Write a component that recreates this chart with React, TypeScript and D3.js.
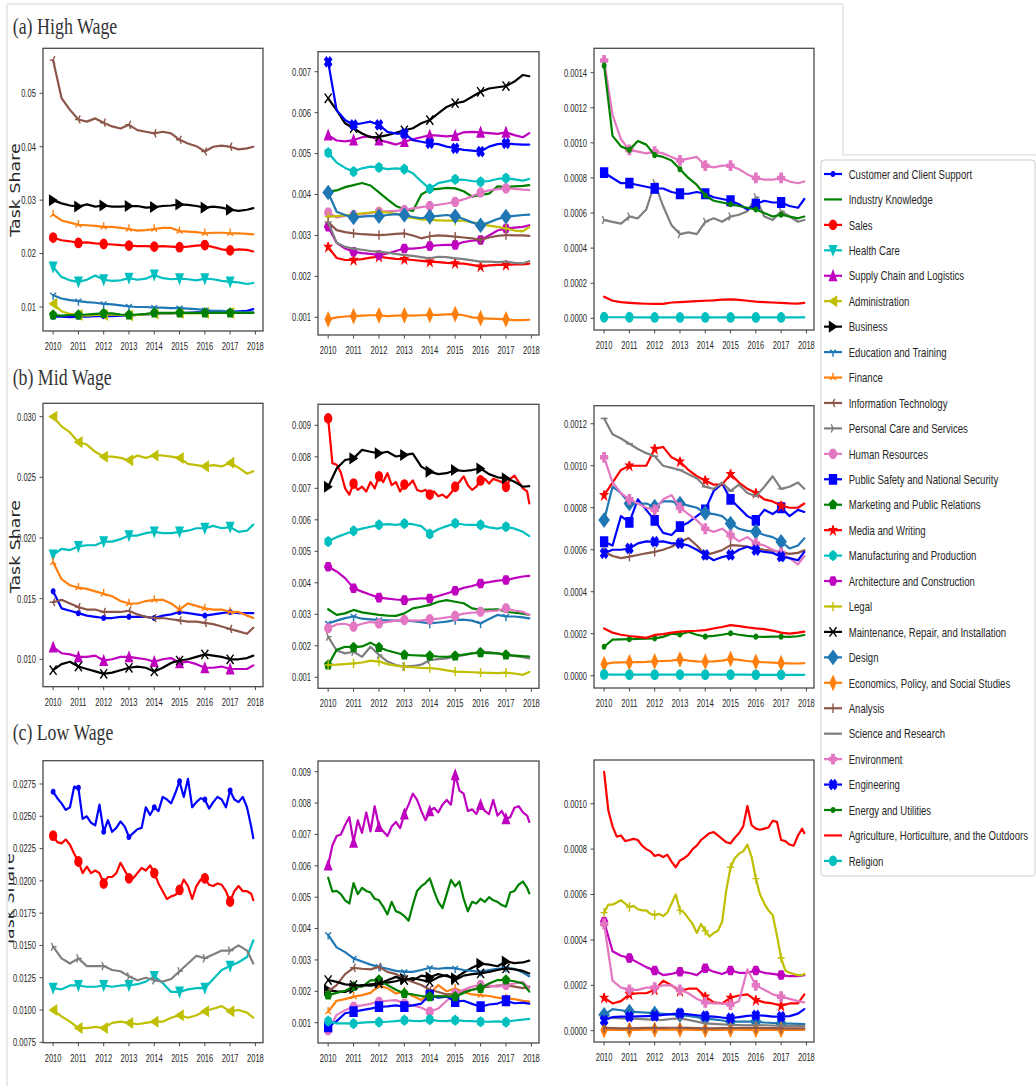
import React from 'react';
import * as d3 from 'd3';

// ---------- categories, colours, markers ----------
const CATEGORIES = [
  'Customer and Client Support', 'Industry Knowledge', 'Sales', 'Health Care', 'Supply Chain and Logistics',
  'Administration', 'Business', 'Education and Training', 'Finance', 'Information Technology',
  'Personal Care and Services', 'Human Resources', 'Public Safety and National Security',
  'Marketing and Public Relations', 'Media and Writing', 'Manufacturing and Production',
  'Architecture and Construction', 'Legal', 'Maintenance, Repair, and Installation', 'Design',
  'Economics, Policy, and Social Studies', 'Analysis', 'Science and Research', 'Environment',
  'Engineering', 'Energy and Utilities', 'Agriculture, Horticulture, and the Outdoors', 'Religion',
];
const COLOR_CYCLE = ['#0000ff', '#008000', '#ff0000', '#00bfbf', '#bf00bf', '#bfbf00', '#000000', '#1f77b4', '#ff7f0e', '#8c564b', '#7f7f7f', '#e377c2'];
const MARKER_CYCLE = ['.', ',', 'o', 'v', '^', '<', '>', '1', '2', '3', '4', '8', 's', 'p', '*', 'h', 'H', '+', 'x', 'D', 'd', '|', '_', 'P', 'X'];

const YEAR_TICKS = [2010, 2011, 2012, 2013, 2014, 2015, 2016, 2017, 2018];
const UNIT = 1e-3; // series values below are in thousandths of task share
const ROW_TITLES = ['(a) High Wage', '(b) Mid Wage', '(c) Low Wage'];
const Y_LABEL = 'Task Share';

// ---------- y tick labels per panel ----------
const TICKS_H1 = ['0.01', '0.02', '0.03', '0.04', '0.05'];
const TICKS_H2 = ['0.001', '0.002', '0.003', '0.004', '0.005', '0.006', '0.007'];
const TICKS_H3 = ['0.0000', '0.0002', '0.0004', '0.0006', '0.0008', '0.0010', '0.0012', '0.0014'];
const TICKS_M1 = ['0.010', '0.015', '0.020', '0.025', '0.030'];
const TICKS_M2 = ['0.001', '0.002', '0.003', '0.004', '0.005', '0.006', '0.007', '0.008', '0.009'];
const TICKS_M3 = ['0.0000', '0.0002', '0.0004', '0.0006', '0.0008', '0.0010', '0.0012'];
const TICKS_L1 = ['0.0075', '0.0100', '0.0125', '0.0150', '0.0175', '0.0200', '0.0225', '0.0250', '0.0275'];
const TICKS_L2 = ['0.001', '0.002', '0.003', '0.004', '0.005', '0.006', '0.007', '0.008', '0.009'];
const TICKS_L3 = ['0.0000', '0.0002', '0.0004', '0.0006', '0.0008', '0.0010'];

// ---------- (a) High wage ----------
const HIGH_1: [string, number[]][] = [
  ['Information Technology', [56.2, 49.1, 46.9, 45.1, 44.7, 45.3, 44.5, 43.8, 43.4, 44.1, 43.1, 42.8, 42.5, 42.8, 42.5, 41.3, 40.6, 40.1, 39.1, 40.0, 40.2, 40.0, 39.5, 39.7, 40.0]],
  ['Business', [30.0, 29.4, 29.0, 28.8, 29.2, 28.8, 29.0, 28.8, 28.8, 28.9, 28.9, 28.6, 28.7, 28.9, 29.0, 29.2, 29.1, 28.9, 28.6, 28.8, 28.6, 28.2, 28.0, 28.2, 28.5]],
  ['Finance', [27.3, 26.2, 25.8, 25.4, 25.3, 25.2, 25.0, 25.0, 24.8, 24.6, 24.3, 24.4, 24.6, 24.8, 24.8, 24.2, 24.1, 24.0, 23.8, 23.9, 23.9, 23.8, 23.8, 23.7, 23.6]],
  ['Sales', [23.0, 22.5, 22.3, 22.0, 22.1, 21.9, 21.8, 21.7, 21.6, 21.5, 21.4, 21.4, 21.3, 21.4, 21.3, 21.2, 21.3, 21.5, 21.6, 21.2, 20.8, 20.6, 20.8, 20.7, 20.4]],
  ['Health Care', [17.5, 15.6, 15.0, 14.7, 15.1, 15.9, 15.1, 14.9, 15.0, 15.4, 15.1, 15.3, 16.0, 15.4, 15.2, 15.3, 15.2, 15.0, 15.3, 15.2, 14.9, 14.7, 14.6, 14.3, 14.5]],
  ['Education and Training', [12.2, 11.6, 11.3, 11.1, 10.9, 10.8, 10.6, 10.5, 10.3, 10.1, 10.0, 10.0, 9.9, 9.9, 9.8, 9.8, 9.7, 9.6, 9.4, 9.3, 9.3, 9.1, 9.1, 9.0, 9.0]],
  ['Administration', [10.6, 9.2, 8.7, 8.5, 8.4, 8.5, 8.5, 8.6, 8.5, 8.4, 8.5, 8.6, 8.8, 8.8, 8.8, 8.9, 8.8, 8.8, 8.9, 8.9, 8.9, 8.9, 8.9, 8.9, 8.9]],
  ['Customer and Client Support', [8.2, 8.2, 8.1, 8.2, 8.2, 8.3, 8.3, 8.3, 8.4, 8.4, 8.5, 8.6, 8.7, 8.8, 8.8, 8.9, 8.9, 9.0, 9.0, 9.1, 9.1, 9.1, 9.2, 9.3, 9.6]],
  ['Marketing and Public Relations', [8.5, 8.4, 8.5, 8.5, 8.6, 8.7, 8.8, 8.8, 8.6, 8.5, 8.6, 8.7, 8.9, 8.9, 8.9, 8.9, 8.9, 8.9, 8.9, 8.9, 8.9, 8.9, 8.9, 8.9, 8.9]],
];
const HIGH_2: [string, number[]][] = [
  ['Engineering', [7.24, 6.06, 5.82, 5.70, 5.74, 5.78, 5.70, 5.53, 5.49, 5.49, 5.33, 5.29, 5.25, 5.23, 5.17, 5.13, 5.09, 5.07, 5.05, 5.17, 5.23, 5.25, 5.23, 5.22, 5.22]],
  ['Maintenance, Repair, and Installation', [6.35, 6.06, 5.74, 5.62, 5.49, 5.40, 5.41, 5.45, 5.51, 5.57, 5.62, 5.74, 5.82, 5.98, 6.14, 6.23, 6.27, 6.39, 6.51, 6.59, 6.62, 6.65, 6.76, 6.92, 6.89]],
  ['Supply Chain and Logistics', [5.45, 5.32, 5.30, 5.33, 5.40, 5.42, 5.33, 5.28, 5.22, 5.29, 5.35, 5.40, 5.45, 5.44, 5.42, 5.44, 5.52, 5.53, 5.52, 5.50, 5.48, 5.52, 5.45, 5.40, 5.50]],
  ['Manufacturing and Production', [5.02, 4.78, 4.65, 4.56, 4.64, 4.68, 4.66, 4.62, 4.64, 4.62, 4.52, 4.32, 4.14, 4.28, 4.32, 4.37, 4.36, 4.33, 4.31, 4.33, 4.38, 4.40, 4.37, 4.34, 4.38]],
  ['Industry Knowledge', [4.07, 4.10, 4.18, 4.23, 4.28, 4.22, 4.05, 3.88, 3.72, 3.64, 3.60, 4.00, 4.12, 4.14, 4.16, 4.15, 4.08, 3.95, 3.99, 4.02, 4.20, 4.18, 4.20, 4.21, 4.23]],
  ['Human Resources', [3.56, 3.44, 3.48, 3.50, 3.52, 3.55, 3.58, 3.59, 3.60, 3.62, 3.66, 3.69, 3.72, 3.75, 3.78, 3.82, 3.88, 3.96, 4.05, 4.10, 4.13, 4.15, 4.14, 4.12, 4.11]],
  ['Design', [4.05, 3.58, 3.50, 3.44, 3.46, 3.48, 3.47, 3.50, 3.52, 3.50, 3.45, 3.42, 3.46, 3.48, 3.50, 3.47, 3.40, 3.32, 3.25, 3.32, 3.40, 3.46, 3.48, 3.50, 3.51]],
  ['Legal', [3.46, 3.47, 3.49, 3.51, 3.54, 3.56, 3.58, 3.56, 3.53, 3.46, 3.43, 3.39, 3.38, 3.37, 3.36, 3.36, 3.36, 3.32, 3.29, 3.24, 3.21, 3.17, 3.12, 3.10, 3.21]],
  ['Analysis', [3.33, 3.13, 3.08, 3.05, 3.03, 3.02, 3.01, 3.02, 3.04, 3.05, 3.00, 2.93, 2.98, 3.00, 2.99, 2.97, 2.95, 2.93, 2.89, 2.95, 2.99, 3.01, 3.00, 3.00, 2.99]],
  ['Architecture and Construction', [3.21, 2.82, 2.68, 2.60, 2.57, 2.55, 2.52, 2.56, 2.62, 2.68, 2.68, 2.70, 2.74, 2.76, 2.77, 2.77, 2.84, 2.87, 2.89, 3.00, 3.12, 3.17, 3.19, 3.21, 3.25]],
  ['Science and Research', [3.33, 2.82, 2.72, 2.68, 2.65, 2.62, 2.60, 2.58, 2.55, 2.52, 2.50, 2.47, 2.44, 2.48, 2.47, 2.44, 2.42, 2.39, 2.36, 2.36, 2.35, 2.36, 2.33, 2.32, 2.37]],
  ['Media and Writing', [2.72, 2.45, 2.40, 2.40, 2.42, 2.46, 2.48, 2.45, 2.43, 2.42, 2.40, 2.38, 2.36, 2.35, 2.33, 2.32, 2.31, 2.28, 2.24, 2.27, 2.28, 2.28, 2.29, 2.29, 2.31]],
  ['Economics, Policy, and Social Studies', [0.95, 1.00, 1.02, 1.03, 1.04, 1.05, 1.05, 1.03, 1.04, 1.05, 1.04, 1.05, 1.06, 1.06, 1.07, 1.08, 1.05, 1.00, 0.98, 0.97, 0.96, 0.95, 0.93, 0.93, 0.94]],
];
const HIGH_3: [string, number[]][] = [
  ['Environment', [1.47, 1.16, 1.02, 0.96, 0.95, 0.94, 0.95, 0.94, 0.92, 0.90, 0.91, 0.92, 0.87, 0.86, 0.87, 0.87, 0.85, 0.82, 0.80, 0.79, 0.79, 0.80, 0.78, 0.77, 0.78]],
  ['Energy and Utilities', [1.44, 1.04, 0.98, 0.96, 1.01, 0.99, 0.93, 0.92, 0.90, 0.85, 0.80, 0.76, 0.70, 0.67, 0.66, 0.65, 0.64, 0.63, 0.62, 0.60, 0.58, 0.59, 0.58, 0.57, 0.58]],
  ['Public Safety and National Security', [0.83, 0.80, 0.77, 0.77, 0.76, 0.75, 0.74, 0.74, 0.72, 0.71, 0.71, 0.72, 0.71, 0.69, 0.68, 0.67, 0.65, 0.62, 0.65, 0.67, 0.66, 0.66, 0.64, 0.63, 0.68]],
  ['Personal Care and Services', [0.56, 0.55, 0.54, 0.58, 0.57, 0.62, 0.77, 0.64, 0.53, 0.48, 0.49, 0.48, 0.55, 0.57, 0.55, 0.58, 0.59, 0.61, 0.69, 0.58, 0.56, 0.61, 0.58, 0.55, 0.56]],
  ['Agriculture, Horticulture, and the Outdoors', [0.123, 0.100, 0.092, 0.088, 0.085, 0.083, 0.082, 0.082, 0.090, 0.092, 0.095, 0.098, 0.100, 0.102, 0.106, 0.108, 0.105, 0.100, 0.095, 0.092, 0.090, 0.088, 0.085, 0.084, 0.088]],
  ['Religion', [0.006, 0.006, 0.006, 0.006, 0.005, 0.005, 0.005, 0.005, 0.005, 0.005, 0.005, 0.005, 0.005, 0.005, 0.005, 0.005, 0.005, 0.005, 0.005, 0.005, 0.005, 0.005, 0.005, 0.005, 0.005]],
];

// ---------- (b) Mid wage ----------
const MID_1: [string, number[]][] = [
  ['Administration', [30.0, 29.2, 28.7, 27.9, 27.7, 27.1, 26.7, 26.7, 26.6, 26.4, 26.8, 26.6, 26.8, 26.8, 26.7, 26.6, 26.1, 26.0, 25.9, 26.0, 25.9, 26.2, 25.8, 25.3, 25.5]],
  ['Health Care', [18.6, 19.1, 19.0, 19.3, 19.4, 19.4, 19.7, 19.7, 19.9, 20.2, 20.2, 20.4, 20.5, 20.4, 20.4, 20.5, 20.6, 20.8, 20.8, 21.0, 20.8, 20.9, 20.5, 20.6, 21.1]],
  ['Finance', [18.0, 16.6, 16.1, 15.9, 15.8, 15.6, 15.4, 15.2, 14.8, 14.6, 14.6, 14.8, 14.9, 14.9, 14.6, 14.1, 14.6, 14.4, 14.2, 14.1, 14.1, 13.9, 13.9, 13.6, 13.4]],
  ['Customer and Client Support', [15.6, 14.2, 14.0, 13.8, 13.6, 13.5, 13.4, 13.4, 13.5, 13.5, 13.5, 13.5, 13.4, 13.6, 13.7, 13.9, 13.8, 13.7, 13.6, 13.7, 13.8, 13.9, 13.8, 13.8, 13.8]],
  ['Information Technology', [14.7, 14.9, 14.6, 14.3, 14.1, 14.1, 13.9, 13.9, 13.9, 14.0, 13.7, 13.5, 13.4, 13.4, 13.3, 13.2, 13.1, 13.1, 13.0, 12.9, 12.7, 12.5, 12.3, 12.1, 12.6]],
  ['Supply Chain and Logistics', [11.0, 10.5, 10.4, 10.2, 10.2, 10.3, 9.9, 10.0, 10.2, 10.2, 10.1, 10.0, 9.8, 10.0, 10.1, 9.7, 9.8, 9.6, 9.3, 9.3, 9.4, 9.2, 9.2, 9.2, 9.5]],
  ['Maintenance, Repair, and Installation', [9.1, 9.6, 9.8, 9.4, 9.2, 9.0, 8.8, 8.9, 9.1, 9.3, 9.4, 9.3, 9.0, 9.3, 9.7, 9.9, 10.0, 10.2, 10.4, 10.3, 10.2, 10.0, 10.0, 10.1, 10.3]],
];
const MID_2: [string, number[]][] = [
  ['Sales', [9.22, 7.80, 7.75, 7.50, 7.00, 6.80, 7.15, 6.95, 7.05, 6.90, 7.20, 7.00, 7.38, 7.20, 7.48, 7.10, 7.20, 6.90, 7.12, 7.10, 7.25, 6.95, 6.90, 6.95, 6.80, 6.90, 6.75, 6.80, 6.70, 6.85, 7.05, 7.20, 7.38, 7.10, 6.95, 7.05, 7.25, 7.30, 7.15, 7.30, 7.25, 7.20, 7.05, 7.30, 7.40, 7.20, 7.00, 6.90, 6.52]],
  ['Business', [7.05, 7.63, 7.90, 7.95, 8.22, 8.16, 8.11, 8.16, 8.01, 8.06, 8.10, 7.69, 7.53, 7.45, 7.48, 7.58, 7.55, 7.58, 7.63, 7.45, 7.35, 7.32, 7.21, 7.05, 7.07]],
  ['Manufacturing and Production', [5.31, 5.45, 5.55, 5.65, 5.72, 5.78, 5.84, 5.86, 5.84, 5.88, 5.86, 5.80, 5.55, 5.70, 5.80, 5.89, 5.85, 5.84, 5.84, 5.76, 5.72, 5.78, 5.72, 5.62, 5.48]],
  ['Architecture and Construction', [4.51, 4.36, 4.15, 3.83, 3.72, 3.62, 3.53, 3.50, 3.47, 3.45, 3.48, 3.51, 3.50, 3.58, 3.66, 3.75, 3.84, 3.90, 3.98, 4.02, 4.07, 4.09, 4.15, 4.20, 4.22]],
  ['Industry Knowledge', [3.16, 2.98, 3.03, 3.14, 3.06, 3.02, 2.98, 2.96, 2.95, 3.03, 3.19, 3.24, 3.30, 3.40, 3.45, 3.40, 3.35, 3.19, 3.14, 3.15, 3.16, 3.08, 3.05, 3.02, 2.98]],
  ['Education and Training', [2.71, 2.80, 2.88, 2.93, 2.86, 2.84, 2.82, 2.81, 2.80, 2.80, 2.78, 2.75, 2.71, 2.74, 2.77, 2.82, 2.83, 2.80, 2.71, 2.85, 2.98, 2.93, 2.93, 2.90, 2.87]],
  ['Human Resources', [2.56, 2.68, 2.70, 2.61, 2.70, 2.76, 2.71, 2.76, 2.80, 2.82, 2.80, 2.81, 2.84, 2.86, 2.90, 2.95, 3.02, 3.05, 3.08, 3.10, 3.12, 3.19, 3.12, 3.08, 2.98]],
  ['Personal Care and Services', [2.29, 1.85, 1.76, 1.81, 1.65, 1.97, 1.71, 1.50, 1.39, 1.34, 1.36, 1.40, 1.55, 1.58, 1.60, 1.66, 1.70, 1.76, 1.81, 1.80, 1.76, 1.71, 1.68, 1.64, 1.60]],
  ['Marketing and Public Relations', [1.39, 1.87, 1.97, 1.95, 1.98, 2.10, 1.95, 1.85, 1.78, 1.71, 1.70, 1.69, 1.68, 1.66, 1.65, 1.68, 1.72, 1.76, 1.78, 1.77, 1.76, 1.71, 1.69, 1.67, 1.66]],
  ['Legal', [1.39, 1.40, 1.42, 1.44, 1.47, 1.53, 1.50, 1.42, 1.37, 1.34, 1.32, 1.30, 1.29, 1.27, 1.22, 1.18, 1.17, 1.16, 1.15, 1.14, 1.13, 1.15, 1.12, 1.08, 1.17]],
];
const MID_3: [string, number[]][] = [
  ['Science and Research', [1.225, 1.15, 1.13, 1.105, 1.08, 1.06, 1.045, 1.00, 0.99, 0.98, 0.96, 0.94, 0.90, 0.89, 0.92, 0.88, 0.91, 0.87, 0.855, 0.90, 0.95, 0.89, 0.90, 0.92, 0.89]],
  ['Media and Writing', [0.86, 0.92, 0.98, 1.00, 1.00, 1.00, 1.08, 1.09, 1.04, 1.02, 0.98, 0.95, 0.93, 0.91, 0.91, 0.96, 0.92, 0.89, 0.87, 0.84, 0.83, 0.81, 0.80, 0.80, 0.82]],
  ['Public Safety and National Security', [0.638, 0.62, 0.76, 0.73, 0.84, 0.79, 0.74, 0.68, 0.67, 0.71, 0.73, 0.76, 0.79, 0.88, 0.915, 0.84, 0.80, 0.76, 0.74, 0.79, 0.77, 0.80, 0.76, 0.79, 0.78]],
  ['Engineering', [0.583, 0.60, 0.60, 0.606, 0.63, 0.64, 0.638, 0.64, 0.63, 0.63, 0.62, 0.60, 0.575, 0.55, 0.565, 0.575, 0.60, 0.614, 0.598, 0.59, 0.585, 0.567, 0.56, 0.55, 0.59]],
  ['Design', [0.741, 0.90, 0.87, 0.82, 0.82, 0.82, 0.805, 0.83, 0.83, 0.82, 0.81, 0.80, 0.775, 0.77, 0.76, 0.725, 0.70, 0.69, 0.686, 0.67, 0.66, 0.638, 0.606, 0.62, 0.654]],
  ['Environment', [1.04, 0.92, 0.87, 0.84, 0.82, 0.80, 0.79, 0.84, 0.86, 0.80, 0.77, 0.74, 0.70, 0.685, 0.70, 0.67, 0.64, 0.66, 0.63, 0.62, 0.60, 0.585, 0.56, 0.53, 0.57]],
  ['Analysis', [0.59, 0.57, 0.56, 0.567, 0.575, 0.583, 0.59, 0.60, 0.614, 0.638, 0.655, 0.62, 0.575, 0.585, 0.598, 0.622, 0.62, 0.615, 0.606, 0.60, 0.595, 0.59, 0.58, 0.585, 0.598]],
  ['Agriculture, Horticulture, and the Outdoors', [0.225, 0.205, 0.195, 0.189, 0.185, 0.180, 0.194, 0.198, 0.205, 0.210, 0.212, 0.214, 0.217, 0.225, 0.232, 0.241, 0.236, 0.230, 0.225, 0.222, 0.215, 0.205, 0.200, 0.205, 0.210]],
  ['Energy and Utilities', [0.138, 0.172, 0.173, 0.174, 0.175, 0.176, 0.178, 0.185, 0.200, 0.196, 0.208, 0.195, 0.186, 0.190, 0.195, 0.202, 0.195, 0.190, 0.186, 0.185, 0.186, 0.186, 0.185, 0.188, 0.194]],
  ['Economics, Policy, and Social Studies', [0.055, 0.062, 0.063, 0.064, 0.065, 0.066, 0.068, 0.070, 0.072, 0.078, 0.072, 0.068, 0.067, 0.068, 0.072, 0.080, 0.075, 0.070, 0.066, 0.064, 0.062, 0.060, 0.059, 0.058, 0.060]],
  ['Religion', [0.006, 0.005, 0.005, 0.005, 0.005, 0.005, 0.005, 0.005, 0.005, 0.005, 0.005, 0.005, 0.005, 0.005, 0.005, 0.005, 0.005, 0.005, 0.004, 0.004, 0.004, 0.004, 0.004, 0.004, 0.004]],
];

// ---------- (c) Low wage ----------
const LOW_1: [string, number[]][] = [
  ['Customer and Client Support', [26.9, 26.4, 26.0, 25.5, 25.7, 27.3, 27.2, 24.8, 25.0, 24.5, 24.3, 25.9, 23.8, 24.7, 23.8, 24.1, 24.6, 24.2, 23.4, 23.7, 24.0, 24.1, 25.7, 25.1, 25.7, 25.4, 26.5, 26.3, 26.0, 26.8, 27.7, 26.5, 27.9, 25.7, 26.1, 26.4, 26.3, 25.6, 26.1, 26.5, 26.3, 25.7, 27.0, 26.3, 26.1, 26.5, 25.7, 24.2, 23.3]],
  ['Sales', [23.5, 23.0, 22.9, 23.2, 22.8, 22.1, 21.5, 20.6, 21.1, 20.6, 20.8, 20.6, 19.8, 20.3, 20.3, 20.6, 21.4, 20.8, 20.2, 20.2, 20.6, 21.0, 20.8, 21.2, 20.6, 19.8, 19.2, 18.6, 18.8, 18.9, 19.3, 20.1, 19.6, 18.6, 19.6, 20.1, 20.2, 19.7, 19.6, 19.8, 19.7, 19.2, 18.4, 19.2, 19.6, 19.2, 19.2, 19.0, 18.5]],
  ['Personal Care and Services', [14.9, 14.0, 13.6, 14.0, 13.4, 13.4, 13.4, 13.1, 13.0, 12.6, 12.3, 12.5, 12.3, 12.2, 12.4, 13.0, 13.6, 14.2, 14.0, 14.3, 14.6, 14.6, 15.0, 14.6, 13.6]],
  ['Health Care', [11.7, 11.6, 11.9, 11.9, 11.8, 11.8, 11.9, 11.8, 11.9, 11.9, 12.0, 12.2, 12.6, 12.1, 11.4, 11.4, 11.6, 11.7, 11.7, 12.4, 13.1, 13.4, 13.7, 14.1, 15.4]],
  ['Administration', [10.0, 9.5, 9.1, 8.6, 8.6, 8.7, 8.6, 9.0, 9.1, 9.0, 8.9, 9.0, 9.1, 9.1, 9.4, 9.6, 9.4, 9.6, 9.9, 10.1, 10.3, 9.9, 10.0, 9.8, 9.4]],
];
const LOW_2: [string, number[]][] = [
  ['Supply Chain and Logistics', [6.02, 6.65, 6.95, 7.00, 7.30, 7.55, 6.75, 7.45, 7.05, 7.70, 7.10, 7.90, 7.25, 7.10, 6.95, 7.25, 7.40, 7.20, 7.65, 7.95, 8.30, 8.10, 7.75, 7.45, 7.75, 7.85, 7.70, 7.95, 8.10, 7.95, 8.90, 8.40, 8.30, 7.75, 7.80, 7.65, 7.95, 7.75, 7.65, 8.10, 7.60, 7.75, 7.50, 7.55, 7.85, 7.90, 7.70, 7.60, 7.40]],
  ['Industry Knowledge', [5.62, 5.18, 5.20, 5.10, 4.90, 4.80, 5.45, 5.10, 5.30, 5.20, 5.15, 4.95, 4.90, 4.70, 4.45, 4.85, 4.55, 4.50, 4.40, 4.25, 4.75, 5.20, 5.35, 5.45, 5.60, 5.20, 4.85, 4.65, 5.10, 5.55, 5.35, 5.50, 4.95, 4.55, 4.85, 4.80, 4.95, 4.85, 5.00, 4.90, 4.85, 4.75, 4.70, 5.15, 5.20, 5.40, 5.50, 5.30, 5.12]],
  ['Education and Training', [3.80, 3.40, 3.25, 3.05, 2.95, 2.85, 2.78, 2.72, 2.65, 2.62, 2.62, 2.68, 2.75, 2.72, 2.75, 2.73, 2.68, 2.65, 2.62, 2.68, 2.72, 2.75, 2.72, 2.60, 2.48]],
  ['Business', [2.04, 2.00, 1.98, 2.10, 2.20, 2.18, 2.22, 2.28, 2.32, 2.40, 2.35, 2.50, 2.45, 2.55, 2.48, 2.42, 2.60, 2.75, 2.88, 2.85, 2.80, 2.95, 2.90, 2.92, 2.98]],
  ['Maintenance, Repair, and Installation', [2.36, 2.30, 2.22, 2.20, 2.18, 2.22, 2.25, 2.35, 2.46, 2.36, 2.42, 2.36, 2.30, 2.45, 2.52, 2.36, 2.50, 2.55, 2.57, 2.62, 2.68, 2.73, 2.70, 2.65, 2.57]],
  ['Information Technology', [2.00, 2.20, 2.55, 2.75, 2.72, 2.70, 2.78, 2.62, 2.55, 2.40, 2.30, 2.20, 2.05, 1.98, 1.90, 1.92, 2.00, 2.05, 2.12, 2.15, 2.18, 2.20, 2.15, 2.10, 2.15]],
  ['Finance', [1.35, 1.70, 1.75, 1.83, 1.88, 1.95, 2.18, 2.10, 1.93, 1.99, 1.85, 1.72, 1.93, 2.20, 2.00, 2.09, 1.98, 1.90, 1.88, 1.85, 1.80, 1.77, 1.75, 1.70, 1.67]],
  ['Marketing and Public Relations', [1.88, 1.95, 2.02, 2.15, 2.15, 2.35, 2.36, 2.20, 2.05, 1.93, 1.90, 1.85, 1.83, 1.85, 1.84, 1.83, 1.95, 2.05, 2.09, 2.25, 2.36, 2.36, 2.32, 2.25, 1.99]],
  ['Human Resources', [0.76, 1.25, 1.40, 1.51, 1.55, 1.60, 1.67, 1.70, 1.72, 1.61, 1.55, 1.48, 1.35, 1.45, 1.70, 1.93, 2.05, 2.15, 2.20, 2.18, 2.15, 2.20, 2.25, 2.30, 2.09]],
  ['Public Safety and National Security', [0.87, 1.05, 1.30, 1.35, 1.40, 1.45, 1.51, 1.52, 1.55, 1.51, 1.55, 1.61, 1.88, 1.80, 1.83, 1.67, 1.70, 1.60, 1.51, 1.58, 1.61, 1.70, 1.62, 1.64, 1.61]],
  ['Manufacturing and Production', [1.05, 0.98, 0.98, 0.97, 1.00, 1.02, 1.02, 1.03, 1.05, 1.08, 1.06, 1.05, 1.10, 1.06, 1.05, 1.08, 1.06, 1.05, 1.03, 1.03, 1.04, 1.02, 1.07, 1.10, 1.12]],
];
const LOW_3: [string, number[]][] = [
  ['Agriculture, Horticulture, and the Outdoors', [1.14, 0.97, 0.90, 0.855, 0.86, 0.835, 0.84, 0.845, 0.84, 0.815, 0.80, 0.79, 0.77, 0.775, 0.765, 0.775, 0.745, 0.72, 0.75, 0.76, 0.775, 0.80, 0.815, 0.84, 0.855, 0.87, 0.875, 0.86, 0.845, 0.83, 0.825, 0.85, 0.87, 0.90, 0.99, 0.905, 0.89, 0.885, 0.89, 0.895, 0.925, 0.92, 0.84, 0.835, 0.82, 0.815, 0.86, 0.89, 0.87]],
  ['Legal', [0.52, 0.555, 0.555, 0.565, 0.575, 0.56, 0.545, 0.55, 0.535, 0.53, 0.53, 0.515, 0.51, 0.515, 0.505, 0.52, 0.56, 0.60, 0.53, 0.52, 0.495, 0.47, 0.43, 0.47, 0.44, 0.415, 0.43, 0.44, 0.48, 0.62, 0.72, 0.76, 0.78, 0.79, 0.82, 0.765, 0.67, 0.60, 0.56, 0.53, 0.51, 0.42, 0.32, 0.265, 0.255, 0.25, 0.245, 0.245, 0.25]],
  ['Architecture and Construction', [0.48, 0.35, 0.33, 0.32, 0.30, 0.28, 0.265, 0.245, 0.25, 0.26, 0.255, 0.245, 0.275, 0.26, 0.25, 0.265, 0.255, 0.255, 0.265, 0.255, 0.25, 0.245, 0.24, 0.24, 0.245]],
  ['Environment', [0.47, 0.22, 0.19, 0.18, 0.18, 0.19, 0.19, 0.20, 0.20, 0.18, 0.165, 0.14, 0.125, 0.12, 0.12, 0.115, 0.13, 0.27, 0.20, 0.18, 0.16, 0.15, 0.14, 0.13, 0.125]],
  ['Media and Writing', [0.145, 0.12, 0.13, 0.16, 0.165, 0.165, 0.18, 0.22, 0.20, 0.175, 0.185, 0.185, 0.15, 0.125, 0.12, 0.145, 0.155, 0.16, 0.135, 0.125, 0.12, 0.11, 0.12, 0.12, 0.16]],
  ['Engineering', [0.045, 0.060, 0.062, 0.062, 0.063, 0.064, 0.065, 0.070, 0.073, 0.076, 0.072, 0.068, 0.064, 0.062, 0.058, 0.055, 0.060, 0.065, 0.068, 0.066, 0.062, 0.062, 0.064, 0.075, 0.095]],
  ['Design', [0.070, 0.095, 0.090, 0.084, 0.082, 0.080, 0.076, 0.074, 0.072, 0.069, 0.065, 0.060, 0.054, 0.050, 0.045, 0.040, 0.040, 0.040, 0.040, 0.036, 0.034, 0.032, 0.031, 0.030, 0.029]],
  ['Science and Research', [0.060, 0.056, 0.054, 0.054, 0.052, 0.050, 0.047, 0.048, 0.052, 0.054, 0.048, 0.040, 0.032, 0.030, 0.028, 0.025, 0.025, 0.024, 0.025, 0.024, 0.023, 0.021, 0.021, 0.021, 0.021]],
  ['Analysis', [0.012, 0.011, 0.010, 0.010, 0.011, 0.012, 0.012, 0.012, 0.013, 0.013, 0.012, 0.011, 0.010, 0.010, 0.011, 0.011, 0.012, 0.012, 0.012, 0.011, 0.011, 0.010, 0.010, 0.010, 0.010]],
  ['Economics, Policy, and Social Studies', [0.003, 0.004, 0.004, 0.004, 0.004, 0.005, 0.005, 0.005, 0.005, 0.005, 0.005, 0.004, 0.004, 0.004, 0.004, 0.005, 0.005, 0.004, 0.004, 0.004, 0.004, 0.004, 0.004, 0.004, 0.004]],
];

// ---------- layout (pixels) ----------
const X_DOMAIN = [2009.6, 2018.3];
const PANELS = [
  { series: HIGH_1, ticks: TICKS_H1, yDomain: [5.51, 58.42], box: [43, 48.3, 263, 331] },
  { series: HIGH_2, ticks: TICKS_H2, yDomain: [0.568, 7.489], box: [318, 51.7, 539, 335] },
  { series: HIGH_3, ticks: TICKS_H3, yDomain: [-0.0667, 1.539], box: [594, 48.3, 814, 330] },
  { series: MID_1, ticks: TICKS_M1, yDomain: [7.74, 31.10], box: [43, 403.3, 263, 686.7] },
  { series: MID_2, ticks: TICKS_M2, yDomain: [0.651, 9.667], box: [318, 404.3, 539, 688.3] },
  { series: MID_3, ticks: TICKS_M3, yDomain: [-0.0586, 1.286], box: [594, 405.7, 814, 688] },
  { series: LOW_1, ticks: TICKS_L1, yDomain: [7.469, 29.304], box: [43, 760.7, 263, 1042.7] },
  { series: LOW_2, ticks: TICKS_L2, yDomain: [0.353, 9.341], box: [318, 761, 539, 1043] },
  { series: LOW_3, ticks: TICKS_L3, yDomain: [-0.0498, 1.1925], box: [594, 760, 814, 1042] },
];
const TITLE_POS = [[12.7, 34.3, 104.6], [12.7, 385, 99], [12.7, 740, 100.6]];
const YLABEL_POS = [[19.5, 190], [19.5, 546.7], [14, 900]];

const SQUEEZE = 0.74; // horizontal squeeze of the source picture
const MS = 9.4;       // marker size
const LW = 2.2;       // line width
const TEXT = '#262626';

function monthsFor(n: number): number[] {
  const step = n > 30 ? 2 : 4;
  const m = d3.range(0, 96 - step + 1, step);
  m.push(95);
  return m;
}

function poly(n: number, r: number, rot: number): string {
  const pts = d3.range(n).map((k) => {
    const a = ((rot + (k * 360) / n - 90) * Math.PI) / 180;
    return [r * Math.cos(a), r * Math.sin(a)];
  });
  return 'M' + pts.map((p) => p[0].toFixed(2) + ',' + p[1].toFixed(2)).join('L') + 'Z';
}
function ptsPath(pts: number[][], u: number): string {
  return 'M' + pts.map((p) => (p[0] * u).toFixed(2) + ',' + (p[1] * u).toFixed(2)).join('L') + 'Z';
}
function markerPath(m: string, s: number): { d: string; fill: boolean } | null {
  const h = s / 2;
  const c = (r: number) => `M${-r},0A${r},${r} 0 1,0 ${r},0A${r},${r} 0 1,0 ${-r},0Z`;
  switch (m) {
    case ',': return null;
    case '.': return { d: c(s * 0.25), fill: true };
    case 'o': return { d: c(h), fill: true };
    case 'v': return { d: `M0,${h}L${-h},${-h}L${h},${-h}Z`, fill: true };
    case '^': return { d: `M0,${-h}L${-h},${h}L${h},${h}Z`, fill: true };
    case '<': return { d: `M${-h},0L${h},${-h}L${h},${h}Z`, fill: true };
    case '>': return { d: `M${h},0L${-h},${-h}L${-h},${h}Z`, fill: true };
    case '1': return { d: `M0,0L0,${h}M0,0L${-0.866 * h},${-0.5 * h}M0,0L${0.866 * h},${-0.5 * h}`, fill: false };
    case '2': return { d: `M0,0L0,${-h}M0,0L${-0.866 * h},${0.5 * h}M0,0L${0.866 * h},${0.5 * h}`, fill: false };
    case '3': return { d: `M0,0L${-h},0M0,0L${0.5 * h},${-0.866 * h}M0,0L${0.5 * h},${0.866 * h}`, fill: false };
    case '4': return { d: `M0,0L${h},0M0,0L${-0.5 * h},${-0.866 * h}M0,0L${-0.5 * h},${0.866 * h}`, fill: false };
    case '8': return { d: poly(8, h, 22.5), fill: true };
    case 's': return { d: `M${-h},${-h}H${h}V${h}H${-h}Z`, fill: true };
    case 'p': return { d: poly(5, h, 0), fill: true };
    case '*': {
      const pts = d3.range(10).map((k) => {
        const r = k % 2 === 0 ? h : h * 0.382;
        const a = ((k * 36 - 90) * Math.PI) / 180;
        return [r * Math.cos(a), r * Math.sin(a)];
      });
      return { d: ptsPath(pts, 1), fill: true };
    }
    case 'h': return { d: poly(6, h, 0), fill: true };
    case 'H': return { d: poly(6, h, 30), fill: true };
    case '+': return { d: `M${-h},0H${h}M0,${-h}V${h}`, fill: false };
    case 'x': return { d: `M${-h},${-h}L${h},${h}M${-h},${h}L${h},${-h}`, fill: false };
    case 'D': { const q = s * 0.707; return { d: `M0,${-q}L${q},0L0,${q}L${-q},0Z`, fill: true }; }
    case 'd': { const q = s * 0.707; const w = q * 0.6; return { d: `M0,${-q}L${w},0L0,${q}L${-w},0Z`, fill: true }; }
    case '|': return { d: `M0,${-h}V${h}`, fill: false };
    case '_': return { d: `M${-h},0H${h}`, fill: false };
    case 'P': return { d: ptsPath([[-1, -3], [1, -3], [1, -1], [3, -1], [3, 1], [1, 1], [1, 3], [-1, 3], [-1, 1], [-3, 1], [-3, -1], [-1, -1]], s / 6), fill: true };
    case 'X': return { d: ptsPath([[-1, -2], [0, -1], [1, -2], [2, -1], [1, 0], [2, 1], [1, 2], [0, 1], [-1, 2], [-2, 1], [-1, 0], [-2, -1]], s / 4), fill: true };
    default: return null;
  }
}

function styleOf(name: string) {
  const i = CATEGORIES.indexOf(name);
  return { i, color: COLOR_CYCLE[i % COLOR_CYCLE.length], marker: MARKER_CYCLE[i % MARKER_CYCLE.length] };
}

function Marker({ x, y, name }: { x: number; y: number; name: string }) {
  const st = styleOf(name);
  const mp = markerPath(st.marker, MS);
  if (!mp) return null;
  return (
    <path
      d={mp.d}
      transform={`translate(${x},${y}) scale(${SQUEEZE},1)`}
      fill={mp.fill ? st.color : 'none'}
      stroke={st.color}
      strokeWidth={1.4}
      vectorEffect="non-scaling-stroke"
    />
  );
}

function Panel({ idx }: { idx: number }) {
  const p = PANELS[idx];
  const [x0, y0, x1, y1] = p.box;
  const x = d3.scaleLinear().domain(X_DOMAIN).range([x0, x1]);
  const y = d3.scaleLinear().domain(p.yDomain).range([y1, y0]);
  const line = d3.line<[number, number]>().x((d) => x(d[0])).y((d) => y(d[1]));
  const ordered = [...p.series].sort((a, b) => CATEGORIES.indexOf(a[0]) - CATEGORIES.indexOf(b[0]));
  const clipId = `clip${idx}`;
  return (
    <g>
      <defs>
        <clipPath id={clipId}>
          <rect x={x0} y={y0} width={x1 - x0} height={y1 - y0} />
        </clipPath>
      </defs>
      <g clipPath={`url(#${clipId})`}>
        {ordered.map(([name, vals]) => {
          const months = monthsFor(vals.length);
          const pts = vals.map((v, k) => [2010 + months[k] / 12, v] as [number, number]);
          const st = styleOf(name);
          return (
            <g key={name}>
              <path d={line(pts) || ''} fill="none" stroke={st.color} strokeWidth={LW} strokeLinejoin="round" strokeLinecap="round" />
              {pts.map((pt, k) =>
                months[k] % 12 === 0 && months[k] <= 84 ? <Marker key={k} x={x(pt[0])} y={y(pt[1])} name={name} /> : null
              )}
            </g>
          );
        })}
      </g>
      <rect x={x0} y={y0} width={x1 - x0} height={y1 - y0} fill="none" stroke="#4a4a4a" strokeWidth={1.3} />
      {p.ticks.map((lab) => {
        const v = parseFloat(lab) / UNIT;
        const ty = y(v);
        return (
          <g key={lab}>
            <line x1={x0 - 3.5} x2={x0} y1={ty} y2={ty} stroke="#4a4a4a" strokeWidth={1} />
            <text
              transform={`translate(${x0 - 7},${ty + 3.9}) scale(0.7,1)`}
              textAnchor="end"
              fontFamily="'Liberation Sans', Arial, sans-serif"
              fontSize={10.8}
              fill={TEXT}
            >
              {lab}
            </text>
          </g>
        );
      })}
      {YEAR_TICKS.map((yr) => (
        <g key={yr}>
          <line x1={x(yr)} x2={x(yr)} y1={y1} y2={y1 + 3.5} stroke="#4a4a4a" strokeWidth={1} />
          <text
            transform={`translate(${x(yr)},${y1 + 19}) scale(0.7,1)`}
            textAnchor="middle"
            fontFamily="'Liberation Sans', Arial, sans-serif"
            fontSize={10.8}
            fill={TEXT}
          >
            {yr}
          </text>
        </g>
      ))}
    </g>
  );
}

function Legend() {
  const top = 174;
  const step = 25.44;
  return (
    <g>
      <rect x={821} y={160} width={214} height={716} rx={3} fill="#ffffff" stroke="#cccccc" strokeWidth={1} />
      {CATEGORIES.map((name, i) => {
        const st = styleOf(name);
        const ly = top + i * step;
        return (
          <g key={name}>
            <line x1={824} x2={842} y1={ly} y2={ly} stroke={st.color} strokeWidth={LW} />
            <Marker x={833} y={ly} name={name} />
            <text
              transform={`translate(848.7,${ly + 4.7}) scale(0.737,1)`}
              fontFamily="'Liberation Sans', Arial, sans-serif"
              fontSize={13}
              fill={TEXT}
            >
              {name}
            </text>
          </g>
        );
      })}
    </g>
  );
}

export default function App() {
  return (
    <svg
      width={1036}
      height={1086}
      viewBox="0 0 1036 1086"
      style={{ position: 'absolute', left: 0, top: 0, background: '#ffffff' }}
    >
      <rect x={0} y={0} width={1036} height={1086} fill="#ffffff" />
      <defs>
        <clipPath id="ylabclip">
          <rect x={8.5} y={700} width={40} height={386} />
        </clipPath>
      </defs>
      {/* faint frame of the source composite */}
      <path d="M7,1086V4H843V155H1036" fill="none" stroke="#d6d6d6" strokeWidth={1} />
      {ROW_TITLES.map((t, r) => (
        <text
          key={t}
          x={TITLE_POS[r][0]}
          y={TITLE_POS[r][1]}
          textLength={TITLE_POS[r][2]}
          lengthAdjust="spacingAndGlyphs"
          fontFamily="'Liberation Serif', 'Times New Roman', serif"
          fontSize={24}
          fill="#333333"
        >
          {t}
        </text>
      ))}
      {YLABEL_POS.map((pos, r) => (
        <g key={r} clipPath={r === 2 ? 'url(#ylabclip)' : undefined}>
          <text
            transform={`translate(${pos[0]},${pos[1]}) scale(0.78,1) rotate(-90)`}
            textAnchor="middle"
            fontFamily="'DejaVu Sans', sans-serif"
            fontSize={17.4}
            fill={TEXT}
          >
            {Y_LABEL}
          </text>
        </g>
      ))}
      {PANELS.map((_, i) => (
        <Panel key={i} idx={i} />
      ))}
      <Legend />
    </svg>
  );
}
